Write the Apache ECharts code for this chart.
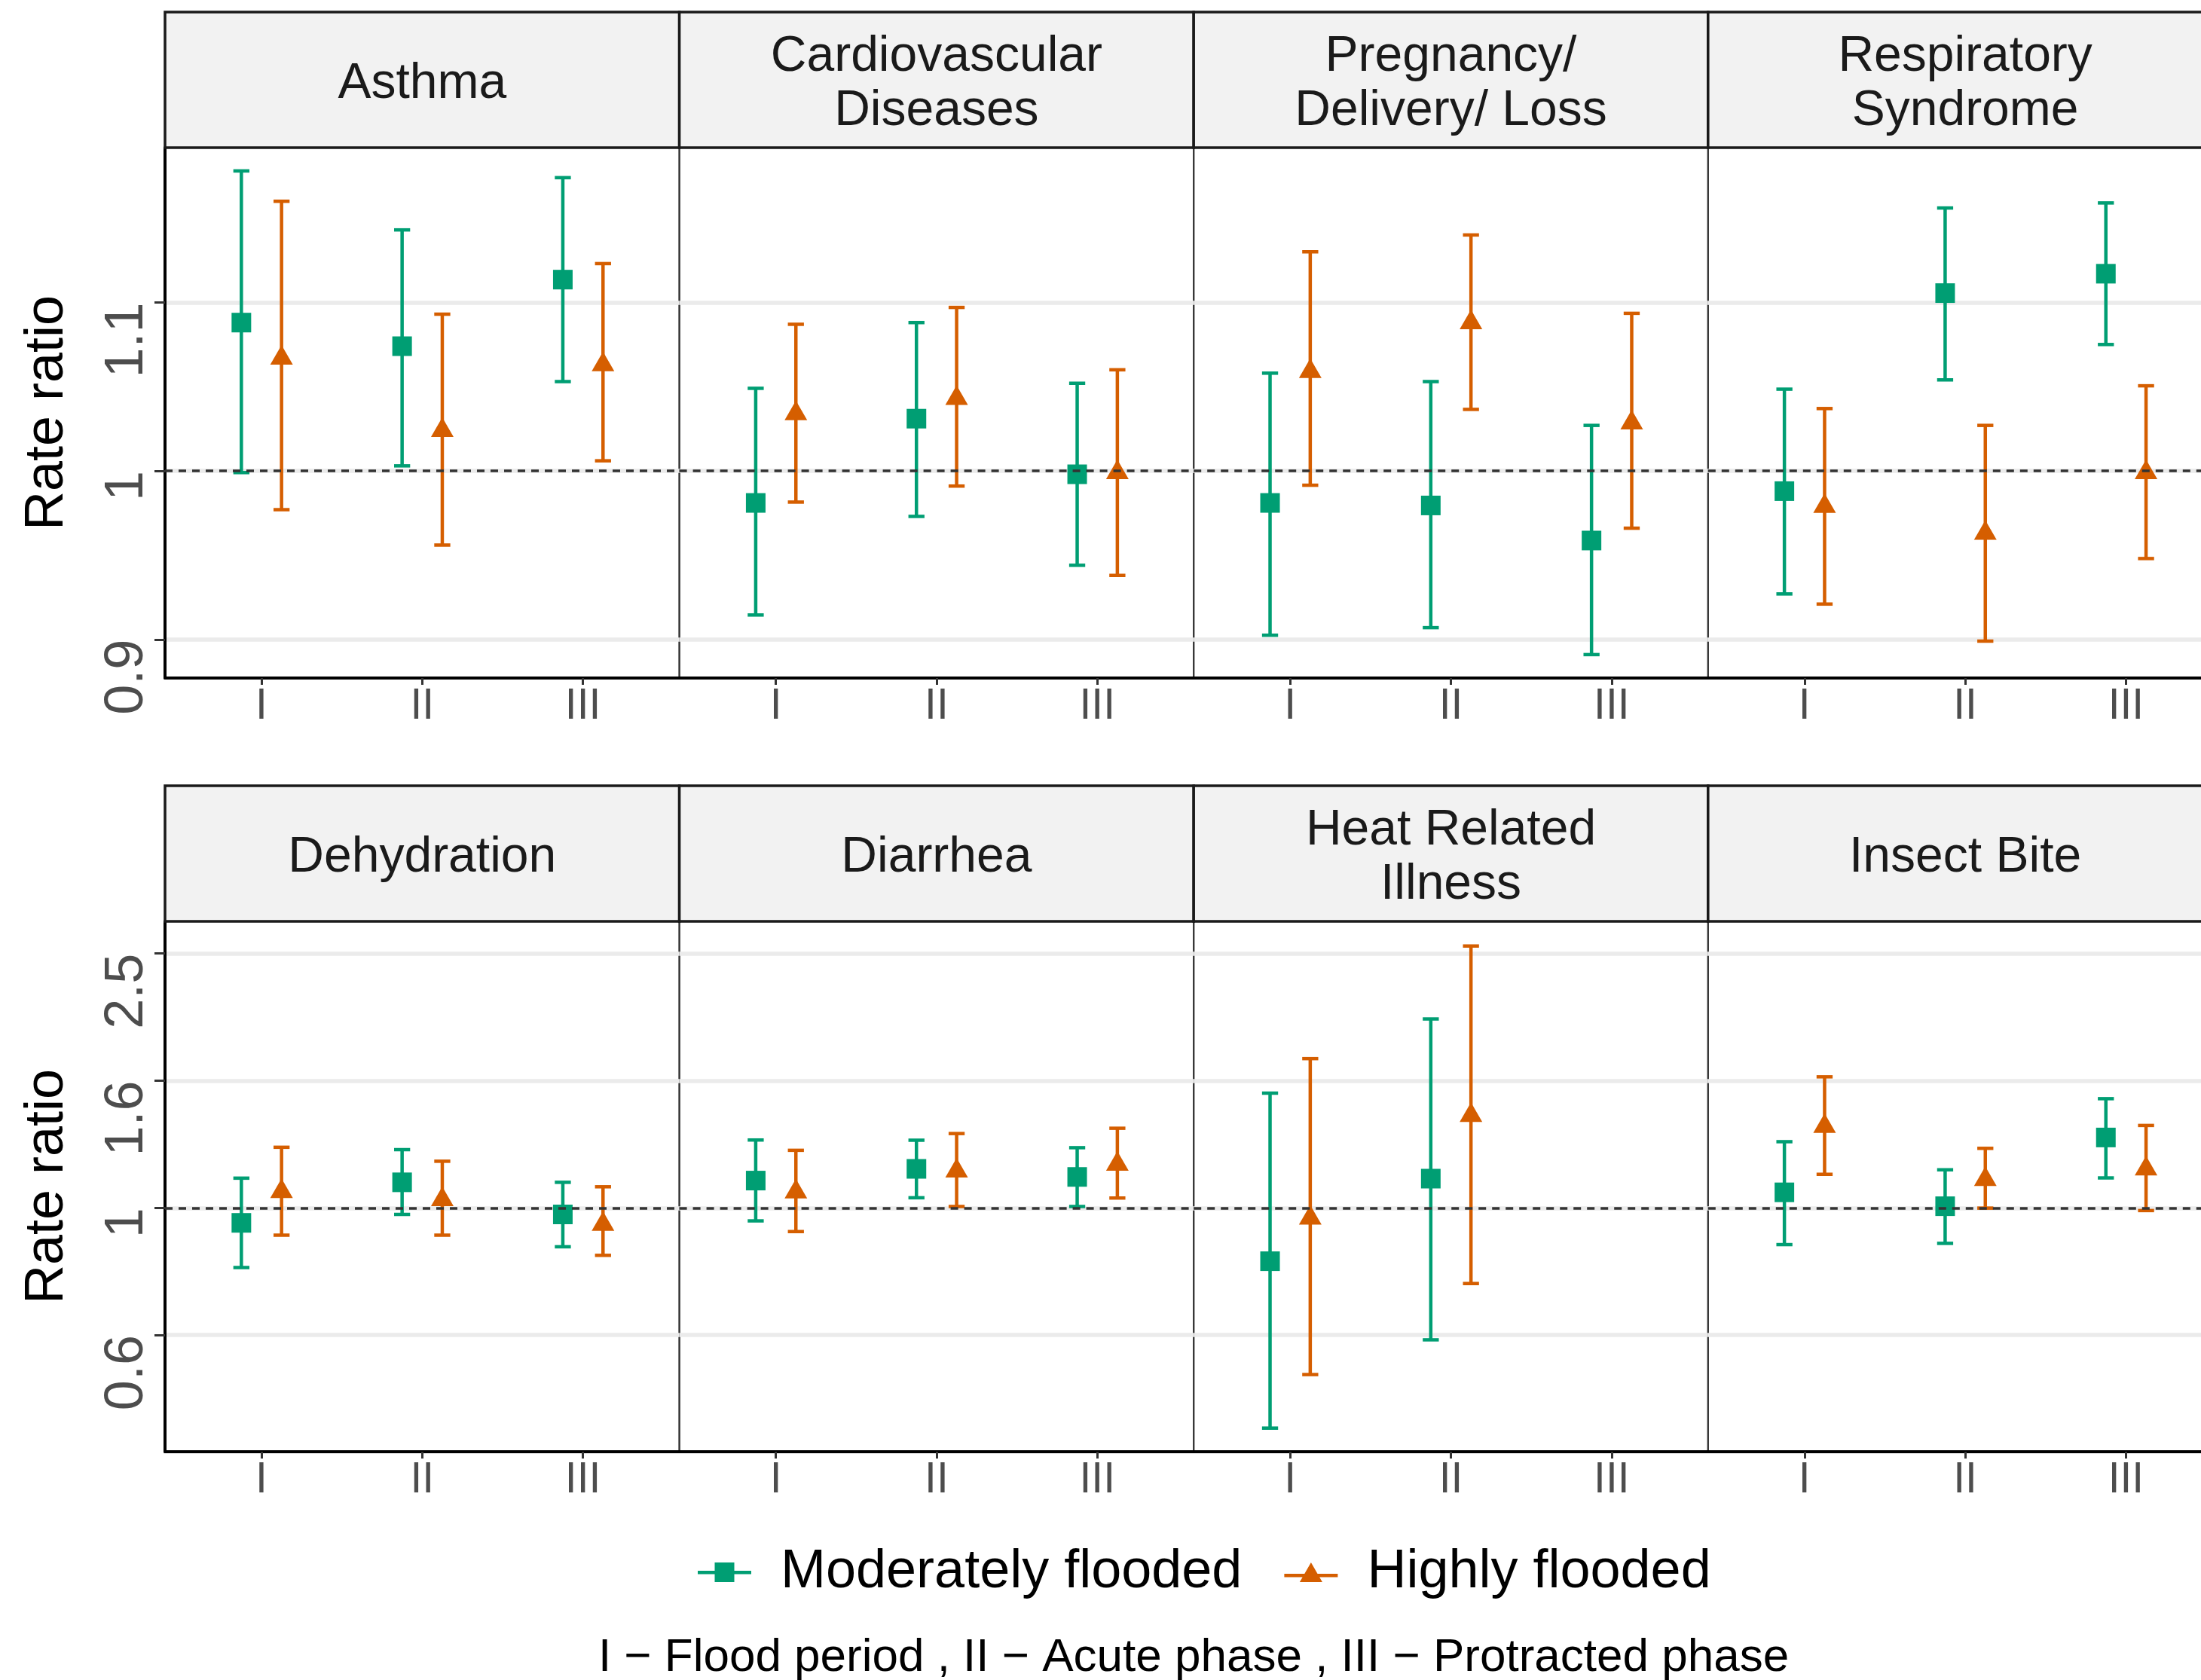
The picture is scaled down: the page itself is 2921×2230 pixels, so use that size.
<!DOCTYPE html>
<html><head><meta charset="utf-8">
<script src="https://cdn.jsdelivr.net/npm/echarts@6/dist/echarts.min.js"></script>
<style>html,body{margin:0;padding:0;background:#fff}#c{width:2921px;height:2230px}</style>
</head><body><div id="c"></div>
<script>
// ---------------- data ----------------
const panelNames = ['Asthma', 'Cardiovascular\nDiseases', 'Pregnancy/\nDelivery/ Loss', 'Respiratory\nSyndrome',
                    'Dehydration', 'Diarrhea', 'Heat Related\nIllness', 'Insect Bite'];
const phaseLabels = ['I', 'II', 'III'];
const seriesNames = ['Moderately flooded', 'Highly flooded'];
const topTickValues = [0.9, 1, 1.1];
const topTickLabels = ['0.9', '1', '1.1'];
const bottomTickValues = [0.625, 1, 1.6, 2.56];
const bottomTickLabels = ['0.6', '1', '1.6', '2.5'];
const yTitle = 'Rate ratio';
const captionText = 'I \u2212 Flood period , II \u2212 Acute phase , III \u2212 Protracted phase';

// Moderately flooded: estimate / lower / upper per panel (phases I, II, III)
const modEst = [
  [1.088, 1.074, 1.1135], [0.981, 1.031, 0.998], [0.981, 0.9795, 0.9587], [0.988, 1.1055, 1.117],
  [0.946, 1.099, 0.976], [1.106, 1.155, 1.121], [0.821, 1.114, null], [1.059, 1.006, 1.297]];
const modLow = [
  [0.999, 1.003, 1.053], [0.9145, 0.973, 0.944], [0.9025, 0.907, 0.891], [0.927, 1.054, 1.075],
  [0.802, 0.976, 0.866], [0.953, 1.038, 1.005], [0.443, 0.614, null], [0.873, 0.877, 1.117]];
const modHigh = [
  [1.178, 1.143, 1.174], [1.049, 1.088, 1.052], [1.058, 1.053, 1.027], [1.0485, 1.156, 1.159],
  [1.116, 1.240, 1.099], [1.285, 1.284, 1.249], [1.528, 2.010, null], [1.277, 1.151, 1.497]];
// Highly flooded
const highEst = [
  [1.067, 1.024, 1.063], [1.034, 1.043, 0.999], [1.059, 1.088, 1.0285], [0.979, 0.963, 0.999],
  [1.062, 1.031, 0.941], [1.061, 1.146, 1.175], [0.963, 1.407, null], [1.352, 1.111, 1.155]];
const highLow = [
  [0.977, 0.956, 1.006], [0.9815, 0.991, 0.938], [0.9915, 1.0365, 0.966], [0.921, 0.899, 0.948],
  [0.904, 0.904, 0.839], [0.916, 1.005, 1.037], [0.540, 0.756, null], [1.132, 0.999, 0.990]];
const highHigh = [
  [1.160, 1.093, 1.123], [1.087, 1.097, 1.060], [1.130, 1.140, 1.0935], [1.037, 1.027, 1.0505],
  [1.251, 1.188, 1.081], [1.237, 1.316, 1.342], [1.736, 2.632, null], [1.623, 1.246, 1.356]];

// ---------------- styling / layout ----------------
const FONT = '"Liberation Sans", Arial, Helvetica, sans-serif';
const COLORS = ['#009E73', '#D55E00'];
const L0 = 219, PW = 682.6, PH = 704;
const rowTop = [196, 1223];
const stripTop = [16, 1043];
const STRIP_H = 180;
const DODGE = 0.125, CAP_W = 0.1;
const topRange = [0.8771, 1.1918];
const bottomRange = [0.406, 2.883];

function nearestLabel(v, vals, labs) {
  let best = 0, bd = Infinity;
  vals.forEach((t, i) => { const d = Math.abs(Math.log(v) - Math.log(t)); if (d < bd) { bd = d; best = i; } });
  return labs[best];
}

function errorBarRenderer(color) {
  return function (params, api) {
    const x = api.value(0), lo = api.value(1), hi = api.value(2);
    const pLo = api.coord([x, lo]), pHi = api.coord([x, hi]);
    const half = (api.coord([x + CAP_W / 2, lo])[0] - pLo[0]);
    const style = { stroke: color, lineWidth: 4.5, fill: null };
    return {
      type: 'group', children: [
        { type: 'line', shape: { x1: pLo[0], y1: pLo[1], x2: pHi[0], y2: pHi[1] }, style },
        { type: 'line', shape: { x1: pLo[0] - half, y1: pLo[1], x2: pLo[0] + half, y2: pLo[1] }, style },
        { type: 'line', shape: { x1: pHi[0] - half, y1: pHi[1], x2: pHi[0] + half, y2: pHi[1] }, style }
      ]
    };
  };
}

const grids = [], xAxes = [], yAxes = [], series = [], graphics = [];
const groups = [
  { est: modEst, low: modLow, high: modHigh, off: -DODGE, symbol: 'rect', size: 26, offset: [0, 0] },
  { est: highEst, low: highLow, high: highHigh, off: DODGE, symbol: 'triangle', size: [30, 26], offset: [0, -4.3] }
];

panelNames.forEach((name, p) => {
  const r = p < 4 ? 0 : 1, c = p % 4;
  const left = L0 + c * PW;
  grids.push({ left: left, top: rowTop[r], width: PW, height: PH, show: true,
    borderColor: '#333', borderWidth: 2, backgroundColor: 'rgba(0,0,0,0)', outerBoundsMode: 'none', containLabel: false });
  xAxes.push({
    gridIndex: p, type: 'value', min: 0.4, max: 3.6,
    splitLine: { show: false },
    axisLine: { show: true, onZero: false, lineStyle: { color: '#000', width: 4 } },
    axisTick: { show: true, customValues: [1, 2, 3], length: 9, lineStyle: { color: '#333', width: 3 } },
    axisLabel: { customValues: [1, 2, 3], formatter: v => phaseLabels[Math.round(v) - 1],
      fontSize: 57, color: '#4D4D4D', margin: 10, fontFamily: FONT }
  });
  const tv = r === 0 ? topTickValues : bottomTickValues;
  const tl = r === 0 ? topTickLabels : bottomTickLabels;
  const ya = {
    gridIndex: p,
    splitLine: { show: true, lineStyle: { color: '#EBEBEB', width: 5.5 } },
    axisLine: { show: c === 0, onZero: false, lineStyle: { color: '#000', width: 4 } },
    axisTick: { show: c === 0, customValues: tv, length: 14, lineStyle: { color: '#333', width: 3 } },
    axisLabel: { show: c === 0, customValues: tv, formatter: v => nearestLabel(v, tv, tl),
      rotate: 90, align: 'right', fontSize: 72, color: '#4D4D4D', margin: 14, fontFamily: FONT }
  };
  if (r === 0) { ya.type = 'value'; ya.min = topRange[0]; ya.max = topRange[1]; }
  else { ya.type = 'log'; ya.logBase = 1.6; ya.min = bottomRange[0]; ya.max = bottomRange[1]; }
  if (c === 0) {
    ya.name = yTitle; ya.nameLocation = 'middle'; ya.nameGap = 120; ya.nameRotate = 90;
    ya.nameTextStyle = { fontSize: 72, color: '#000', fontFamily: FONT };
  }
  yAxes.push(ya);

  // reference line at 1
  series.push({ type: 'line', xAxisIndex: p, yAxisIndex: p, data: [], z: 2, silent: true,
    markLine: { silent: true, symbol: 'none', label: { show: false }, animation: false,
      lineStyle: { type: [10, 8], color: '#333', width: 3.5 }, data: [{ yAxis: 1 }] } });

  groups.forEach((g, gi) => {
    const bars = [], pts = [];
    phaseLabels.forEach((ph, i) => {
      const e = g.est[p][i];
      if (e == null) return;
      const x = i + 1 + g.off;
      bars.push([x, g.low[p][i], g.high[p][i]]);
      pts.push([x, e]);
    });
    series.push({ type: 'custom', name: seriesNames[gi], xAxisIndex: p, yAxisIndex: p, z: 3,
      renderItem: errorBarRenderer(COLORS[gi]), encode: { x: 0, y: [1, 2] }, data: bars, silent: true, animation: false });
    series.push({ type: 'scatter', name: seriesNames[gi], xAxisIndex: p, yAxisIndex: p, z: 4,
      symbol: g.symbol, symbolSize: g.size, symbolOffset: g.offset,
      itemStyle: { color: COLORS[gi], opacity: 1 }, data: pts, silent: true, animation: false });
  });

  // facet strip
  graphics.push({ type: 'rect', shape: { x: left, y: stripTop[r], width: PW, height: STRIP_H },
    style: { fill: '#F2F2F2', stroke: '#1A1A1A', lineWidth: 3.5 }, z: 10 });
  graphics.push({ type: 'text', x: left + PW / 2, y: stripTop[r] + STRIP_H / 2 + 6, z: 11,
    style: { text: name, fill: '#1A1A1A', fontSize: 66, fontFamily: FONT, lineHeight: 72,
      textAlign: 'center', verticalAlign: 'middle', textVerticalAlign: 'middle' } });
});

graphics.push({ type: 'text', x: 1584, y: 2201, z: 11,
  style: { text: captionText, fill: '#000', fontSize: 62, fontFamily: FONT,
    textAlign: 'center', verticalAlign: 'middle', textVerticalAlign: 'middle' } });

const modIcon = 'path://M0,11 L71,11 L71,15.5 L0,15.5 Z M22.5,0 L48.5,0 L48.5,26 L22.5,26 Z';
const highIcon = 'path://M0,15 L71,15 L71,19.5 L0,19.5 Z M35.5,0 L50.5,26 L20.5,26 Z';

const option = {
  animation: false,
  backgroundColor: '#fff',
  grid: grids, xAxis: xAxes, yAxis: yAxes, series: series,
  legend: {
    data: [
      { name: seriesNames[0], icon: modIcon, itemStyle: { color: COLORS[0] } },
      { name: seriesNames[1], icon: highIcon, itemStyle: { color: COLORS[1] } }
    ],
    left: 926, top: 2051, padding: 0, itemWidth: 71, itemHeight: 26, itemGap: 56,
    selectedMode: false,
    textStyle: { fontSize: 72, color: '#000', fontFamily: FONT, padding: [0, 0, 0, 34] }
  },
  graphic: graphics
};

const chart = echarts.init(document.getElementById('c'), null, { renderer: 'canvas', width: 2921, height: 2230 });
chart.setOption(option);
</script>
</body></html>
